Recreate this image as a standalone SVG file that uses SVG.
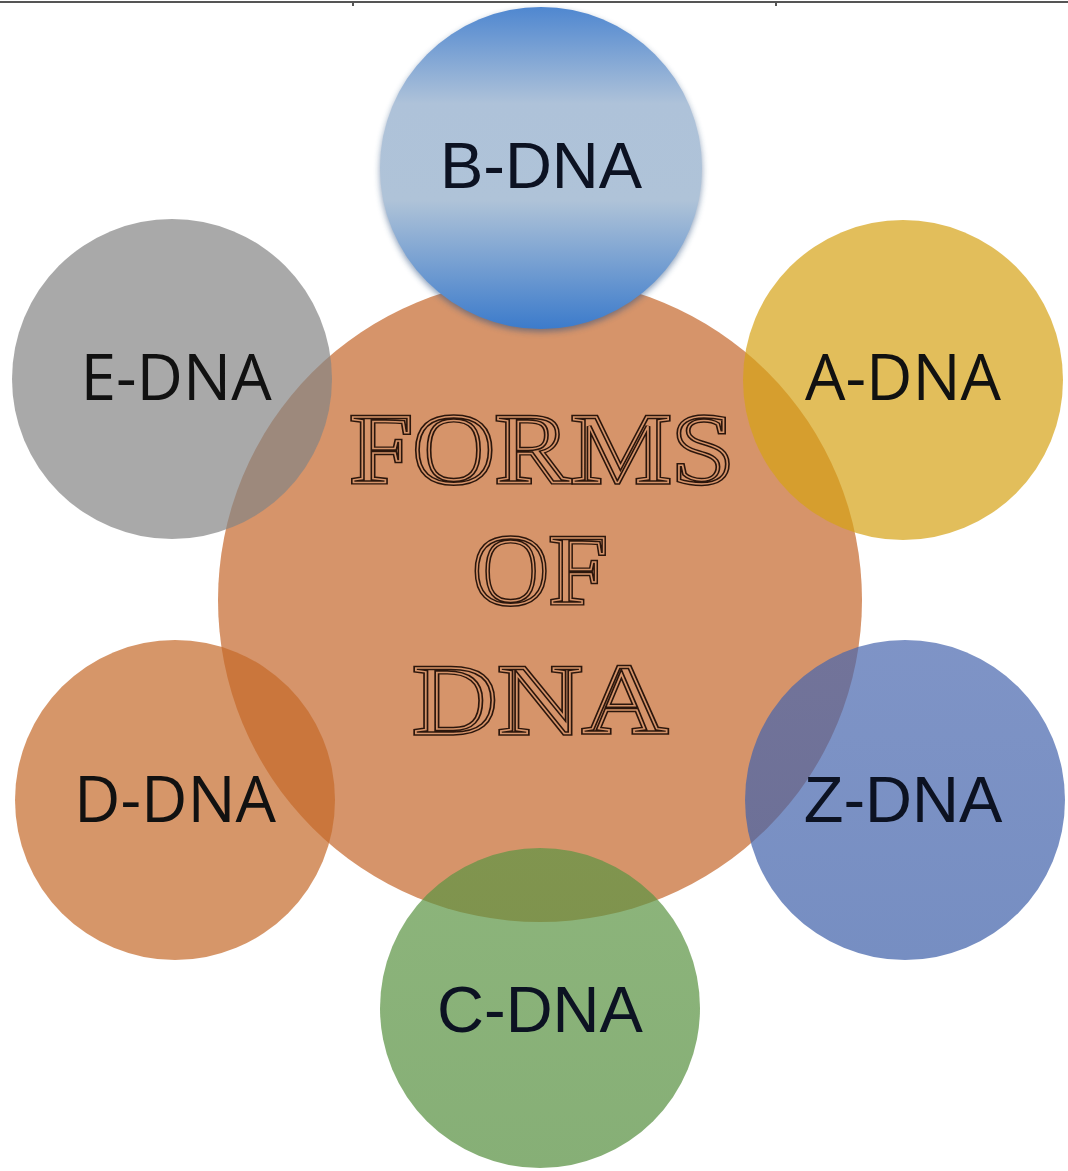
<svg xmlns="http://www.w3.org/2000/svg" width="1068" height="1171" viewBox="0 0 1068 1171">
<defs>
<linearGradient id="gB" x1="0" y1="0" x2="0" y2="1">
<stop offset="0" stop-color="#4F87D0"/>
<stop offset="0.3" stop-color="#AEC2D9"/>
<stop offset="0.6" stop-color="#AFC3D8"/>
<stop offset="1" stop-color="#3C7BCB"/>
</linearGradient>
<linearGradient id="gZ" x1="0" y1="0" x2="0" y2="1">
<stop offset="0" stop-color="#4866AE"/>
<stop offset="1" stop-color="#3C5EA8"/>
</linearGradient>
<linearGradient id="gC" x1="0" y1="0" x2="0" y2="1">
<stop offset="0" stop-color="#5C9543"/>
<stop offset="1" stop-color="#538D3C"/>
</linearGradient>
<filter id="sh" x="-10%" y="-10%" width="120%" height="125%">
<feGaussianBlur stdDeviation="3"/>
</filter>
</defs>
<style>
.sat{fill-opacity:0.7}
.lbl{font-family:"Liberation Sans",Arial,sans-serif;font-size:65px;fill:#0c1222;text-anchor:middle}
.lbl2{font-family:"Open Sans","Noto Sans",sans-serif;font-size:64px;fill:#111;text-anchor:middle}
.title{font-family:"Liberation Serif","Times New Roman",serif;font-size:100px;text-anchor:middle}
.t1{fill:#D6946A;stroke:#2b160c;stroke-width:4.4}
.t2{fill:none;stroke:#D6946A;stroke-width:1.5}
</style>
<rect width="1068" height="1171" fill="#ffffff"/>
<g id="frame" stroke="#555" stroke-width="2" fill="none">
<line x1="0" y1="2" x2="1068" y2="2"/>
<line x1="353" y1="2" x2="353" y2="6"/>
<line x1="776" y1="2" x2="776" y2="6"/>
</g>
<g id="connectors"/>
<g id="center">
<circle cx="540" cy="600" r="322" fill="#D6946A"/>
</g>
<g id="node-e">
<circle class="sat" cx="172" cy="379" r="160" fill="#848484"/>
<text class="lbl2" x="176" y="400">E-DNA</text>
</g>
<g id="node-a">
<circle class="sat" cx="903" cy="380" r="160" fill="#D6A216"/>
<text class="lbl2" x="903" y="400">A-DNA</text>
</g>
<g id="node-z">
<circle class="sat" cx="905" cy="800" r="160" fill="url(#gZ)"/>
<text class="lbl" x="903" y="822">Z-DNA</text>
</g>
<g id="node-d">
<circle class="sat" cx="175" cy="800" r="160" fill="#C5692A"/>
<text class="lbl2" x="175" y="822">D-DNA</text>
</g>
<g id="node-c">
<circle class="sat" cx="540" cy="1008" r="160" fill="url(#gC)"/>
<text class="lbl" x="540" y="1032">C-DNA</text>
</g>
<g id="node-b">
<circle cx="541" cy="171" r="161" fill="#2c4f80" opacity="0.55" filter="url(#sh)"/>
<circle cx="541" cy="168" r="161" fill="url(#gB)"/>
<text class="lbl" x="541" y="188">B-DNA</text>
</g>
<g id="title" class="title">
<text class="t1" x="542" y="482" textLength="385" lengthAdjust="spacingAndGlyphs">FORMS</text>
<text class="t1" x="540" y="603" textLength="135" lengthAdjust="spacingAndGlyphs">OF</text>
<text class="t1" x="540" y="733" textLength="255" lengthAdjust="spacingAndGlyphs">DNA</text>
<text class="t2" x="542" y="482" textLength="385" lengthAdjust="spacingAndGlyphs">FORMS</text>
<text class="t2" x="540" y="603" textLength="135" lengthAdjust="spacingAndGlyphs">OF</text>
<text class="t2" x="540" y="733" textLength="255" lengthAdjust="spacingAndGlyphs">DNA</text>
</g>
</svg>
